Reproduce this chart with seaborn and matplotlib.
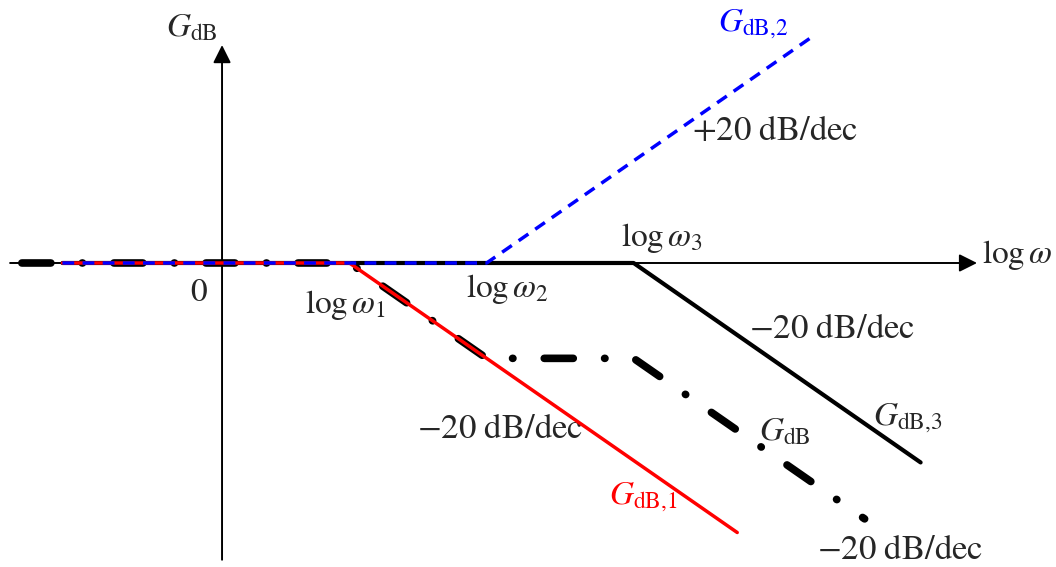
import matplotlib
matplotlib.use("Agg")
import matplotlib.pyplot as plt
import seaborn as sns
import pandas as pd

# Asymptotic Bode magnitude plot: x in decades (log ω), y in dB
log_w1 = 0.91
log_w2 = 1.89
log_w3 = 2.94

# G_dB,1 : corner at ω1, then -20 dB/dec
g1_x = [-1.14, log_w1, 3.68]
g1_y = [0.0, 0.0, -55.4]
# G_dB,2 : corner at ω2, then +20 dB/dec
g2_x = [-1.14, log_w2, 4.22]
g2_y = [0.0, 0.0, 46.6]
# G_dB,3 : corner at ω3, then -20 dB/dec
g3_x = [-1.14, log_w3, 4.99]
g3_y = [0.0, 0.0, -41.0]
# Total G_dB = G_dB,1 + G_dB,2 + G_dB,3
g_x = [-1.43, log_w1, log_w2, log_w3, 4.59]
g_y = [0.0, 0.0, -19.6, -19.6, -52.6]

sns.set_theme(style="white")
plt.rcParams["mathtext.fontset"] = "stix"
plt.rcParams["font.family"] = ["STIXGeneral", "DejaVu Serif"]

fig = plt.figure(figsize=(10.56, 5.67), dpi=100)
ax = fig.add_axes([0, 0, 1, 1])
ax.set_xlim(-1.586, 5.957)
ax.set_ylim(-62.49, 54.06)
ax.set_axis_off()

# coordinate axes with arrow heads
arrow = dict(arrowstyle="-|>,head_length=0.54,head_width=0.27", mutation_scale=20,
             lw=1.4, color="black", shrinkA=0, shrinkB=0)
ax.annotate("", xy=(5.393, 0), xytext=(-1.514, 0), arrowprops=arrow, zorder=1)
ax.annotate("", xy=(0, 44.8), xytext=(0, -61.0), arrowprops=arrow, zorder=1)

# total response, thick dash-dot
df = pd.DataFrame({"x": g_x, "y": g_y})
sns.lineplot(data=df, x="x", y="y", ax=ax, color="black", lw=5.5, sort=False,
             estimator=None, zorder=2)
ln = ax.lines[-1]
ln.set_dashes((3.8, 4.1, 0.05, 4.1))
ln.set_dash_capstyle("round")
ln.set_solid_joinstyle("round")

# G_dB,3 solid black
sns.lineplot(x=g3_x, y=g3_y, ax=ax, color="black", lw=3, sort=False,
             estimator=None, zorder=3)
# G_dB,1 solid red
sns.lineplot(x=g1_x, y=g1_y, ax=ax, color="#ff0000", lw=2.5, sort=False,
             estimator=None, zorder=4)
# G_dB,2 dashed blue
sns.lineplot(x=g2_x, y=g2_y, ax=ax, color="#0000ff", lw=2.5, sort=False,
             estimator=None, zorder=5)
ax.lines[-1].set_dashes((3.4, 2.4))

fs = 24
fs2 = 25
ax.text(-0.214, 48.3, r"$G_{\mathrm{dB}}$", fontsize=fs, ha="center", va="center")
ax.text(-0.171, -6.2, "0", fontsize=fs, ha="center", va="center")
ax.text(0.879, -8.6, r"$\log\omega_1$", fontsize=fs, ha="center", va="center")
ax.text(2.036, -5.3, r"$\log\omega_2$", fontsize=fs, ha="center", va="center")
ax.text(3.143, 5.1, r"$\log\omega_3$", fontsize=fs, ha="center", va="center")
ax.text(5.43, 1.6, r"$\log\omega$", fontsize=fs, ha="left", va="center")
ax.text(4.357, -13.8, r"$-20\ \mathrm{dB/dec}$", fontsize=fs2, ha="center", va="center")
ax.text(4.9, -31.9, r"$G_{\mathrm{dB{,}3}}$", fontsize=fs, ha="center", va="center")
ax.text(4.021, -34.7, r"$G_{\mathrm{dB}}$", fontsize=fs, ha="center", va="center")
ax.text(1.986, -34.3, r"$-20\ \mathrm{dB/dec}$", fontsize=fs2, ha="center", va="center")
ax.text(3.007, -48.1, r"$G_{\mathrm{dB{,}1}}$", fontsize=fs, ha="center", va="center",
        color="#ff0000")
ax.text(4.843, -59.2, r"$-20\ \mathrm{dB/dec}$", fontsize=fs2, ha="center", va="center")
ax.text(3.793, 49.1, r"$G_{\mathrm{dB{,}2}}$", fontsize=fs, ha="center", va="center",
        color="#0000ff")
ax.text(3.95, 26.9, r"$+20\ \mathrm{dB/dec}$", fontsize=fs2, ha="center", va="center")

fig.savefig("out.png", dpi=100)
